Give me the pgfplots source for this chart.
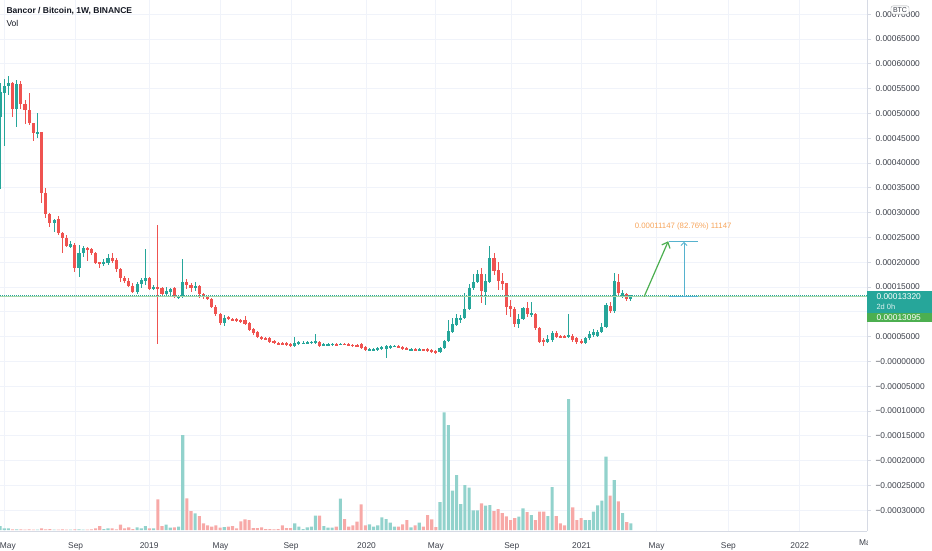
\documentclass[border=0pt]{standalone}
\usepackage{fontspec}
\setmainfont{Liberation Sans}
\usepackage{pgfplots}
\pgfplotsset{compat=1.18}
\usepackage{pgfplotstable}
\usetikzlibrary{arrows.meta}
\definecolor{tvgreen}{RGB}{38,166,154}
\definecolor{tvred}{RGB}{239,83,80}
\definecolor{volgreen}{RGB}{146,210,204}
\definecolor{volred}{RGB}{247,169,167}
\definecolor{tvgrid}{RGB}{240,243,250}
\definecolor{tvborder}{RGB}{214,218,228}
\definecolor{tvtext}{RGB}{19,23,34}
\definecolor{ticktext}{RGB}{60,64,74}
\definecolor{hlgreen}{RGB}{165,214,167}
\definecolor{boxgreen}{RGB}{76,175,80}
\definecolor{arrowgreen}{RGB}{76,175,80}
\definecolor{rangecol}{RGB}{86,178,206}
\definecolor{rangetext}{RGB}{246,164,90}

% prices in satoshi (1e-8 BTC); v = volume (relative)
\pgfplotstableread{
k o h l c v
0 49291 56145 34776 54331 4
1 54129 56952 43444 55540 1.7
2 55540 57556 53726 56145 1.7
4 50904 56750 47275 55944 0.7
9 45864 50097 45057 46267 0.5
13 27921 28728 26107 28526 0.5
17 23083 24292 22881 23688 0.5
19 18849 23486 17035 21873 0.7
20 21873 23284 21067 22881 0.5
25 19656 20664 19252 20059 1
26 19857 21672 19454 20865 1.7
33 14011 16027 13608 15624 2.7
34 15624 16833 14817 16430 1.7
35 16228 22680 15422 16833 4
37 14616 15422 14414 15019 1.7
40 13608 15019 13003 14212 5.3
41 14011 14817 13003 14616 2.3
43 12801 13406 12600 13204 3.3
44 13003 20664 12801 16027 95
47 14817 16027 14212 15220 16.7
54 7761 9374 7156 8769 3
71 3124 4939 2923 3729 6.7
72 3528 4132 3326 3931 3.3
73 3628 4132 3528 3830 1
74 3729 4132 3528 3931 2.7
75 3729 4132 3528 4032 3.3
76 3729 5544 3528 4132 14.3
78 3326 3729 3124 3528 4
79 3326 3729 3124 3528 2.3
80 3326 3729 3124 3628 2.3
82 3427 3729 3326 3628 31.3
89 2217 2721 2116 2520 5.7
90 2318 2721 2116 2520 3.3
91 2318 2923 2116 2721 4.7
92 2520 3124 2318 2923 12.7
93 2520 3326 705 3124 11
94 2721 3326 2520 3124 7.3
95 3064 3326 2923 3185 3.3
99 2318 2721 2116 2520 2.7
101 2318 2721 2217 2520 7.3
106 1915 2923 1713 2721 28
107 2721 4334 2520 4193 117.7
108 4132 8366 3931 6148 105
109 5947 8769 5745 7560 39.3
110 7358 9576 7156 8769 55
111 8568 9374 7761 8769 26
112 8769 13809 8568 10584 45
113 10584 15624 10382 14817 42.3
114 14817 17640 14414 16027 19.7
115 16027 18446 15825 17640 19.7
117 14011 17640 11390 16228 24.3
118 16027 23284 15825 20865 25
125 7560 9576 6753 8568 13.3
126 8568 10987 8366 10785 21.7
128 9374 11995 8971 9777 15
132 3931 5342 3729 4536 14
133 4334 6148 3931 5745 43
137 4939 9576 4737 5342 131
141 3729 4939 3528 4737 10
142 4737 6148 4334 5544 10
143 5342 6552 4939 5947 18.3
144 5140 6350 4939 5947 24.7
145 5947 7761 5745 6955 29.3
146 6955 11793 6753 11390 73.3
148 10180 17841 9777 16228 50
150 13003 14414 12801 13809 17
152 12600 13500 12196 13320 6.7
}\greentab

\pgfplotstableread{
k o h l c v
3 56145 56347 49291 50904 0.7
5 55944 56548 50904 51912 0.7
6 51912 52718 47880 50702 0.5
7 50702 54129 47678 48081 0.7
8 48081 48081 44452 46065 0.5
10 46267 46267 31953 33969 1.7
11 33969 34977 28929 29736 0.7
12 29736 29937 27115 27921 1
14 28728 29332 25502 25905 0.5
15 25905 26107 21873 24897 0.7
16 24897 25502 23083 23284 0.5
18 23486 23890 18043 18849 0.7
21 22881 23083 20260 22478 0.5
22 22680 22881 21470 21873 0.7
23 21873 22075 19656 19857 1.7
24 20059 20059 18849 19656 4
27 20865 21873 19857 20260 1.7
28 20462 20865 18043 18648 0.7
29 18648 18849 16027 16833 5.3
30 16833 17236 15825 16228 1.7
31 16228 16833 15019 15220 2.7
32 15220 15825 13809 14011 1
36 16833 17035 14414 14616 1.7
38 15019 27518 3528 14817 30.7
39 14817 15019 13406 13608 4
42 14817 15019 12801 13003 2.7
45 16027 16632 14616 15422 31.7
46 15422 15825 14011 14817 19
48 15220 15422 12801 13608 14
49 13608 13809 12600 13003 6.7
50 13003 13204 12398 12600 4.7
51 12600 12801 10785 10987 3.3
52 10987 11390 9172 9576 4.7
53 9576 9777 7358 7761 2.3
55 8971 9172 8366 8568 3.3
56 8568 8769 8164 8366 4
57 8568 8769 7963 8164 1.7
58 8366 8568 7761 7963 8.7
59 8366 9172 7358 7560 10.7
60 7761 7963 6148 6350 10
61 6552 6753 5342 5745 2
62 5947 6148 4737 4939 2
63 4939 5140 4334 4536 2.7
64 4737 4939 4334 4536 1
65 4737 4939 3729 3931 1
66 4132 4334 3528 3729 0.7
67 3729 3931 3326 3528 1
68 3729 3931 3326 3528 4.7
69 3729 3931 3124 3326 2
70 3528 3729 2923 3124 2
77 3931 4132 2923 3124 14.3
81 3528 3729 3124 3326 3.3
83 3528 3729 3326 3388 11
84 3528 3729 3124 3326 3.3
85 3388 3528 2923 3124 4.7
86 3326 3528 2923 3124 8.3
87 3528 3729 2520 2721 25.7
88 2923 3124 2116 2318 4.7
96 3124 3326 2721 2822 3.3
97 2923 3124 2318 2520 5.7
98 2721 2923 2318 2520 10
100 2520 2721 2116 2318 4.7
102 2520 2620 2116 2318 3.3
103 2520 2721 1915 2116 15
104 2318 2520 1713 1915 10.7
105 2116 2318 1612 1774 3
116 17640 18849 11793 14212 26.7
119 20865 21873 17438 18244 19
120 18446 20059 14414 16228 21
121 16228 17841 14414 15624 17
122 15825 15825 9374 10987 13.7
123 11188 12398 8971 10584 10
124 10584 10987 6955 7560 12
127 10785 11995 8971 9576 18
129 9576 9777 6350 6753 10
130 6753 6955 3729 3931 18.3
131 4334 4737 3124 3931 18.3
134 5745 6148 4737 4939 14
135 5140 5342 4737 4939 6.7
136 5140 5342 4737 4939 4.7
138 5140 5544 3931 4334 22.7
139 4737 4939 3528 3931 10
140 4132 4536 3528 3729 12
147 11188 11995 9777 10180 34.3
149 16027 17640 13406 13809 28.7
151 13608 13809 12196 12600 8
}\redtab

\begin{document}
\begin{tikzpicture}[x=1pt,y=1pt]
% ---------- price pane ----------
\begin{axis}[
  at={(0pt,0pt)}, anchor=south west,
  width=867pt, height=531pt, scale only axis,
  xmin=-0.036, xmax=208.9, ymin=-34171, ymax=72878,
  axis x line*=bottom, axis y line*=right,
  axis line style={draw=tvborder, line width=0.8pt, -},
  xtick={1.0,18.2,35.9,53.1,70.1,88.3,105.0,123.3,140.1,158.2,175.5,192.7},
  xticklabels={\makebox[0pt][l]{\kern-4.3pt May},Sep,2019,May,Sep,2020,May,Sep,2021,May,Sep,2022},
  ytick={-30000,-25000,-20000,-15000,-10000,-5000,0,5000,10000,15000,20000,25000,30000,35000,40000,45000,50000,55000,60000,65000,70000},
  yticklabels={−0.00030000,−0.00025000,−0.00020000,−0.00015000,−0.00010000,−0.00005000,−0.00000000,0.00005000,{},0.00015000,0.00020000,0.00025000,0.00030000,0.00035000,0.00040000,0.00045000,0.00050000,0.00055000,0.00060000,0.00065000,0.00070000},
  grid=major, major grid style={draw=tvgrid, line width=0.9pt},
  xtick style={draw=none},
  ytick style={draw=tvborder, line width=0.8pt},
  tick align=outside, major tick length=4pt,
  tick label style={font=\fontsize{8.4}{10}\selectfont, text=ticktext},
  yticklabel style={anchor=west, xshift=1pt},
  xticklabel style={yshift=-4pt},
  scaled y ticks=false,
  clip=true,
]
% wicks
\addplot[draw=none, mark=none, forget plot,
  error bars/.cd, y dir=both, y explicit, error mark=none,
  error bar style={draw=tvgreen, line width=0.9pt}]
  table[x=k, y expr={(\thisrow{h}+\thisrow{l})/2}, y error expr={(\thisrow{h}-\thisrow{l})/2}]{\greentab};
\addplot[draw=none, mark=none, forget plot,
  error bars/.cd, y dir=both, y explicit, error mark=none,
  error bar style={draw=tvred, line width=0.9pt}]
  table[x=k, y expr={(\thisrow{h}+\thisrow{l})/2}, y error expr={(\thisrow{h}-\thisrow{l})/2}]{\redtab};
% bodies
\addplot[draw=none, mark=none, forget plot,
  error bars/.cd, y dir=both, y explicit, error mark=none,
  error bar style={draw=tvgreen, line width=3.1pt}]
  table[x=k, y expr={(\thisrow{o}+\thisrow{c})/2}, y error expr={max(abs(\thisrow{o}-\thisrow{c})/2,100)}]{\greentab};
\addplot[draw=none, mark=none, forget plot,
  error bars/.cd, y dir=both, y explicit, error mark=none,
  error bar style={draw=tvred, line width=3.1pt}]
  table[x=k, y expr={(\thisrow{o}+\thisrow{c})/2}, y error expr={max(abs(\thisrow{o}-\thisrow{c})/2,100)}]{\redtab};
% horizontal line and last price line
\draw[hlgreen, line width=1.6pt] (axis cs:-0.036,13095) -- (axis cs:208.9,13095);
\draw[tvgreen, line width=0.9pt, dash pattern=on 1pt off 1pt] (axis cs:-0.036,13320) -- (axis cs:208.9,13320);
% arrow
\draw[arrowgreen, line width=1.2pt, -{Straight Barb[length=5pt,width=9pt]}] (axis cs:155.2,13095) -- (axis cs:161.0,24242);
% price range
\draw[rangecol, line width=1.1pt] (axis cs:161.1,24242) -- (axis cs:168.1,24242);
\draw[rangecol, line width=1.1pt] (axis cs:161.1,13095) -- (axis cs:168.1,13095);
\draw[rangecol, line width=0.9pt, -{Straight Barb[length=3pt,width=6pt]}] (axis cs:164.8,13095) -- (axis cs:164.8,24100);
\node[text=rangetext, font=\fontsize{7.8}{9}\selectfont] at (axis cs:164.6,27300) {0.00011147 (82.76\%) 11147};
\end{axis}
% ---------- volume pane ----------
\begin{axis}[
  at={(0pt,0pt)}, anchor=south west,
  width=867pt, height=531pt, scale only axis,
  xmin=-0.036, xmax=208.9, ymin=-1, ymax=530,
  hide axis,
]
\addplot[ybar, bar width=3.1pt, bar shift=0pt, fill=volgreen, draw=none] table[x=k, y=v]{\greentab};
\addplot[ybar, bar width=3.1pt, bar shift=0pt, fill=volred, draw=none] table[x=k, y=v]{\redtab};
\end{axis}
% ---------- price scale labels ----------
\fill[tvgreen] (867.4,218) rectangle (932,240);
\node[anchor=west, text=white, font=\fontsize{8.4}{10}\selectfont] at (873,234.3) {0.00013320};
\node[anchor=west, text=white, opacity=0.85, font=\fontsize{7.5}{9}\selectfont] at (873,224.6) {2d 0h};
\fill[boxgreen] (867.4,209) rectangle (932,218);
\node[anchor=west, text=white, font=\fontsize{8.4}{10}\selectfont] at (873,213.3) {0.00013095};
\node[draw=ticktext!45, fill=white, rounded corners=2pt, inner xsep=2pt, inner ysep=1.6pt, text=ticktext, font=\fontsize{7}{8}\selectfont] at (900,521) {BTC};
% ---------- title ----------
\node[anchor=west, text=tvtext, font=\bfseries\fontsize{8.5}{10}\selectfont] at (3,520) {Bancor / Bitcoin, 1W, BINANCE};
\node[anchor=west, text=tvtext, font=\fontsize{8.5}{10}\selectfont] at (3,507.5) {Vol};
\node[anchor=west, text=ticktext, font=\fontsize{8.4}{10}\selectfont, inner sep=0pt] at (859,-11.5) {Ma};
\fill[white] (867.8,-19) rectangle (932,-1);
\pgfresetboundingbox
\useasboundingbox (0,-19) rectangle (932,531);
\end{tikzpicture}
\end{document}
